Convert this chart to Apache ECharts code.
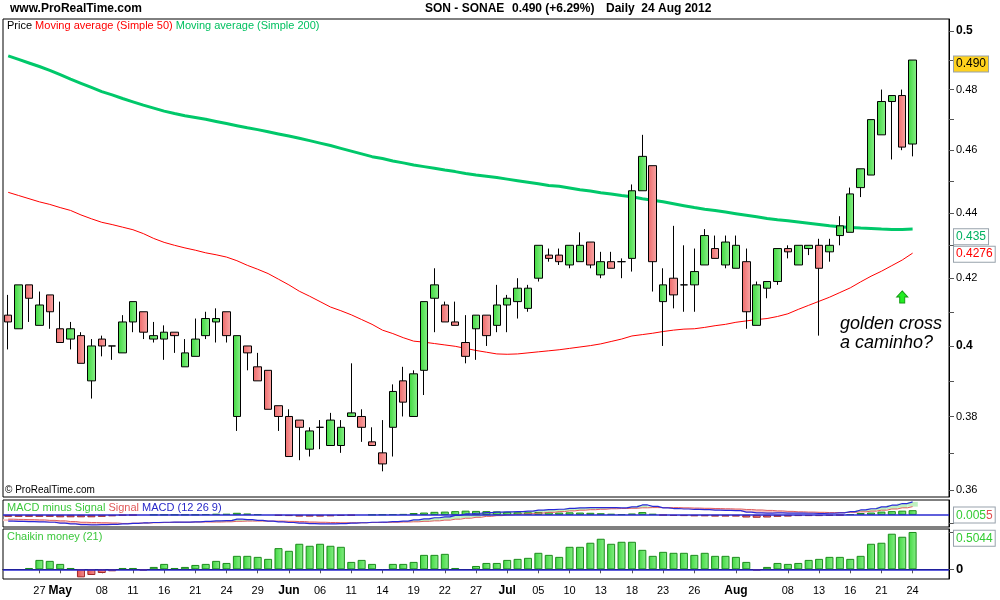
<!DOCTYPE html>
<html>
<head>
<meta charset="utf-8">
<script src="https://cdn.jsdelivr.net/npm/echarts@6/dist/echarts.min.js"></script>
<style>html,body{margin:0;padding:0;background:#fff;}#c{width:1000px;height:600px;}</style>
</head>
<body>
<div id="c"></div>
<script>
// ---------- DATA ----------
const dates = [
'2012-04-24','2012-04-25','2012-04-26','2012-04-27','2012-04-30',
'2012-05-02','2012-05-03','2012-05-04','2012-05-07','2012-05-08','2012-05-09','2012-05-10','2012-05-11','2012-05-14','2012-05-15','2012-05-16','2012-05-17','2012-05-18','2012-05-21','2012-05-22','2012-05-23','2012-05-24','2012-05-25','2012-05-28','2012-05-29','2012-05-30','2012-05-31',
'2012-06-01','2012-06-04','2012-06-05','2012-06-06','2012-06-07','2012-06-08','2012-06-11','2012-06-12','2012-06-13','2012-06-14','2012-06-15','2012-06-18','2012-06-19','2012-06-20','2012-06-21','2012-06-22','2012-06-25','2012-06-26','2012-06-27','2012-06-28','2012-06-29',
'2012-07-02','2012-07-03','2012-07-04','2012-07-05','2012-07-06','2012-07-09','2012-07-10','2012-07-11','2012-07-12','2012-07-13','2012-07-16','2012-07-17','2012-07-18','2012-07-19','2012-07-20','2012-07-23','2012-07-24','2012-07-25','2012-07-26','2012-07-27','2012-07-30','2012-07-31',
'2012-08-01','2012-08-02','2012-08-03','2012-08-06','2012-08-07','2012-08-08','2012-08-09','2012-08-10','2012-08-13','2012-08-14','2012-08-15','2012-08-16','2012-08-17','2012-08-20','2012-08-21','2012-08-22','2012-08-23','2012-08-24'
];
const padCats = ['p1','p2','p3'];

const opens = [0.409,0.405,0.418,0.406,0.415,0.405,0.402,0.403,0.390,0.402,
0.400,0.398,0.407,0.410,0.402,0.402,0.404,0.394,0.397,0.403,
0.407,0.410,0.380,0.400,0.394,0.393,0.383,0.380,0.379,0.371,
0.377,0.372,0.372,0.380,0.380,0.373,0.370,0.377,0.390,0.380,
0.393,0.414,0.412,0.407,0.401,0.405,0.409,0.406,0.412,0.413,
0.411,0.420,0.427,0.427,0.424,0.425,0.431,0.421,0.425,0.425,
0.426,0.447,0.455,0.413,0.420,0.418,0.418,0.424,0.429,0.424,
0.423,0.425,0.406,0.417,0.419,0.429,0.424,0.429,0.430,0.428,
0.433,0.434,0.448,0.452,0.465,0.476,0.478,0.462];
const closes = [0.407,0.418,0.414,0.412,0.410,0.401,0.405,0.395,0.400,0.400,
0.400,0.407,0.413,0.404,0.403,0.404,0.403,0.398,0.402,0.408,
0.408,0.403,0.403,0.398,0.390,0.382,0.380,0.369,0.377,0.376,
0.377,0.379,0.377,0.381,0.377,0.372,0.367,0.387,0.384,0.392,
0.413,0.418,0.407,0.406,0.397,0.409,0.403,0.412,0.414,0.417,
0.417,0.430,0.426,0.425,0.430,0.430,0.424,0.425,0.423,0.425,
0.447,0.458,0.425,0.418,0.415,0.418,0.422,0.433,0.426,0.431,
0.430,0.410,0.418,0.419,0.429,0.428,0.430,0.430,0.423,0.430,
0.436,0.446,0.454,0.470,0.476,0.478,0.461,0.490];
const lows = [0.399,0.405,0.407,0.406,0.405,0.401,0.399,0.395,0.385,0.397,
0.396,0.398,0.404,0.402,0.401,0.396,0.398,0.394,0.397,0.402,
0.401,0.401,0.376,0.393,0.390,0.382,0.376,0.369,0.368,0.369,
0.371,0.372,0.370,0.380,0.373,0.372,0.365,0.369,0.380,0.380,
0.386,0.404,0.407,0.406,0.395,0.396,0.400,0.404,0.404,0.408,
0.410,0.419,0.425,0.424,0.423,0.425,0.423,0.420,0.423,0.420,
0.422,0.447,0.416,0.400,0.411,0.410,0.410,0.424,0.426,0.423,
0.423,0.405,0.406,0.414,0.418,0.426,0.424,0.427,0.403,0.425,
0.430,0.434,0.445,0.452,0.465,0.457,0.460,0.458];
const highs = [0.415,0.418,0.418,0.416,0.415,0.413,0.407,0.404,0.402,0.403,
0.400,0.409,0.413,0.410,0.407,0.406,0.404,0.402,0.408,0.410,
0.411,0.410,0.403,0.400,0.398,0.393,0.383,0.382,0.379,0.377,
0.379,0.381,0.379,0.395,0.382,0.377,0.379,0.389,0.394,0.393,
0.413,0.423,0.413,0.413,0.409,0.409,0.409,0.418,0.415,0.420,
0.418,0.430,0.429,0.429,0.430,0.434,0.431,0.428,0.428,0.426,
0.449,0.465,0.455,0.423,0.436,0.430,0.429,0.435,0.433,0.433,
0.433,0.429,0.419,0.419,0.429,0.430,0.430,0.430,0.432,0.432,
0.439,0.448,0.454,0.470,0.480,0.478,0.480,0.490];

const ma50 = [0.4465,0.4455,0.4445,0.4435,0.4427,0.4417,0.4408,0.4394,0.4382,0.4371,
0.4364,0.4356,0.4348,0.4336,0.4321,0.4309,0.4300,0.4292,0.4285,0.4277,
0.4271,0.4264,0.4253,0.4239,0.4227,0.4214,0.4197,0.4180,0.4161,0.4146,
0.4130,0.4114,0.4103,0.4091,0.4077,0.4063,0.4046,0.4036,0.4024,0.4014,
0.4011,0.4007,0.4003,0.3999,0.3993,0.3987,0.3982,0.3977,0.3976,0.3977,
0.3980,0.3983,0.3986,0.3989,0.3993,0.3997,0.4001,0.4006,0.4013,0.4020,
0.4029,0.4033,0.4037,0.4042,0.4046,0.4049,0.4050,0.4054,0.4059,0.4063,
0.4069,0.4073,0.4077,0.4080,0.4086,0.4094,0.4107,0.4119,0.4131,0.4143,
0.4157,0.4171,0.4189,0.4206,0.4221,0.4238,0.4255,0.4276];
const ma200 = [0.4914,0.4902,0.4890,0.4878,0.4865,0.4850,0.4835,0.4821,0.4807,0.4793,
0.4782,0.4770,0.4759,0.4748,0.4738,0.4728,0.4720,0.4713,0.4707,0.4701,
0.4694,0.4687,0.4680,0.4673,0.4667,0.4660,0.4653,0.4646,0.4639,0.4631,
0.4623,0.4615,0.4606,0.4597,0.4588,0.4579,0.4573,0.4565,0.4559,0.4552,
0.4547,0.4542,0.4536,0.4531,0.4525,0.4520,0.4516,0.4512,0.4507,0.4502,
0.4497,0.4492,0.4487,0.4484,0.4479,0.4473,0.4469,0.4464,0.4460,0.4455,
0.4451,0.4445,0.4440,0.4435,0.4429,0.4423,0.4417,0.4412,0.4408,0.4403,
0.4398,0.4393,0.4388,0.4383,0.4379,0.4376,0.4372,0.4368,0.4364,0.4360,
0.4357,0.4355,0.4353,0.4352,0.4350,0.4349,0.4349,0.4350];

const macdLine = [-0.0026,-0.0027,-0.0028,-0.0029,-0.0031,-0.0035,-0.0038,-0.0041,-0.0042,-0.0041,
-0.0040,-0.0038,-0.0036,-0.0034,-0.0032,-0.0031,-0.0030,-0.0030,-0.0029,-0.0027,
-0.0025,-0.0024,-0.0018,-0.0020,-0.0023,-0.0026,-0.0029,-0.0032,-0.0035,-0.0037,
-0.0038,-0.0038,-0.0037,-0.0035,-0.0033,-0.0031,-0.0030,-0.0028,-0.0026,-0.0021,
-0.0017,-0.0012,-0.0008,-0.0002,0.0004,0.0007,0.0010,0.0012,0.0013,0.0014,
0.0016,0.0020,0.0022,0.0024,0.0028,0.0030,0.0031,0.0031,0.0031,0.0030,
0.0034,0.0042,0.0036,0.0030,0.0027,0.0025,0.0023,0.0022,0.0020,0.0019,
0.0018,0.0012,0.0009,0.0008,0.0009,0.0008,0.0008,0.0007,0.0006,0.0007,
0.0009,0.0014,0.0021,0.0026,0.0034,0.0041,0.0048,0.0055];
const signalLine = [-0.0018,-0.0019,-0.0020,-0.0021,-0.0023,-0.0025,-0.0028,-0.0031,-0.0032,-0.0033,
-0.0034,-0.0036,-0.0035,-0.0034,-0.0033,-0.0032,-0.0031,-0.0031,-0.0030,-0.0030,
-0.0030,-0.0029,-0.0027,-0.0026,-0.0026,-0.0026,-0.0026,-0.0027,-0.0028,-0.0030,
-0.0031,-0.0032,-0.0033,-0.0033,-0.0033,-0.0032,-0.0032,-0.0031,-0.0030,-0.0029,
-0.0027,-0.0025,-0.0022,-0.0018,-0.0014,-0.0010,-0.0006,-0.0003,0.0000,0.0003,
0.0005,0.0008,0.0011,0.0014,0.0017,0.0020,0.0022,0.0024,0.0026,0.0027,
0.0028,0.0030,0.0031,0.0031,0.0031,0.0030,0.0029,0.0028,0.0027,0.0026,
0.0025,0.0023,0.0021,0.0019,0.0017,0.0015,0.0013,0.0012,0.0011,0.0010,
0.0010,0.0011,0.0013,0.0016,0.0020,0.0025,0.0030,0.0035];
const macdHist = [-0.0008,-0.0008,-0.0008,-0.0008,-0.0008,-0.0010,-0.0010,-0.0010,-0.0010,-0.0008,
-0.0006,-0.0002,-0.0001,0,0.0001,0.0001,0.0001,0.0001,0.0001,0.0003,
0.0005,0.0005,0.0009,0.0006,0.0003,0,-0.0003,-0.0005,-0.0007,-0.0007,
-0.0007,-0.0006,-0.0004,-0.0002,0,0.0001,0.0002,0.0003,0.0004,0.0008,
0.0010,0.0013,0.0014,0.0016,0.0018,0.0017,0.0016,0.0015,0.0013,0.0011,
0.0011,0.0012,0.0011,0.0010,0.0011,0.0010,0.0009,0.0007,0.0005,0.0003,
0.0006,0.0012,0.0005,-0.0001,-0.0004,-0.0005,-0.0006,-0.0006,-0.0007,-0.0007,
-0.0007,-0.0011,-0.0012,-0.0011,-0.0008,-0.0007,-0.0005,-0.0005,-0.0005,-0.0003,
-0.0001,0.0003,0.0008,0.0010,0.0014,0.0016,0.0018,0.0020];

const chaikin = [0,0,0.018,0.127,0.114,0.073,0.018,-0.109,-0.077,-0.050,
-0.027,0.018,0.018,-0.018,0.032,0.073,0.018,0.032,0.059,0.073,
0.114,0.086,0.182,0.182,0.168,0.141,0.286,0.250,0.345,0.318,
0.345,0.318,0.304,0.100,0.127,0.073,0,0.073,0.073,0.100,
0.195,0.195,0.209,0.018,0,0.045,0.086,0.086,0.127,0.141,
0.155,0.223,0.195,0.168,0.304,0.304,0.359,0.413,0.345,0.372,
0.372,0.263,0.182,0.236,0.223,0.223,0.195,0.223,0.182,0.182,
0.168,0.100,-0.018,0.032,0.086,0.073,0.086,0.127,0.141,0.168,
0.168,0.141,0.182,0.345,0.359,0.481,0.440,0.5044];

const xTickIdx = [3,5,9,12,15,18,21,24,27,30,33,36,39,42,45,48,51,54,57,60,63,66,70,75,78,81,84,87];
const xTickText = ['27','May','08','11','16','21','24','29','Jun','06','11','14','19','22','27','Jul','05','10','13','18','23','26','Aug','08','13','16','21','24'];
const monthLabels = ['May','Jun','Jul','Aug'];

const priceLabels = [0.36,0.38,0.40,0.42,0.44,0.46,0.48,0.50];
const priceTicks = [0.36,0.37,0.38,0.39,0.40,0.41,0.42,0.43,0.44,0.45,0.46,0.47,0.48,0.49,0.50];

// ---------- CHART ----------
const FONT = '"Liberation Sans", Arial, sans-serif';
// price scale of the original: logarithmic-like (log of price + 0.1)
const SHIFT = 0.1;
const F = v => Math.log(v + SHIFT);
const FI = t => Math.exp(t) - SHIFT;
const span = F(0.5) - F(0.36);
const yMax = F(0.5) + span * 12 / 459;
const yMin = F(0.36) - span * 7 / 459;

const chart = echarts.init(document.getElementById('c'), null, {renderer: 'canvas'});
const cats = dates.concat(padCats);

const gUp = new echarts.graphic.LinearGradient(0,0,1,0,[{offset:0,color:'#3cd83c'},{offset:1,color:'#8cf08c'}]);
const gDown = new echarts.graphic.LinearGradient(0,0,1,0,[{offset:0,color:'#ee6868'},{offset:1,color:'#f8a8a8'}]);
const gBarUp = new echarts.graphic.LinearGradient(0,0,1,0,[{offset:0,color:'#40d840'},{offset:1,color:'#88ee88'}]);
const gBarDown = new echarts.graphic.LinearGradient(0,0,1,0,[{offset:0,color:'#e85050'},{offset:1,color:'#f09090'}]);

const candleData = opens.map((o,i)=>[F(o), F(closes[i]), F(lows[i]), F(highs[i])]);
const isTick = (idx)=> xTickIdx.indexOf(idx) >= 0;

function barItems(arr){
  return arr.map(v=>({value:v, itemStyle: v===0 ? {borderWidth:0, color:'transparent'} :
    (v>0 ? {color:gBarUp, borderColor:'#1c8c1c', borderWidth:1} : {color:gBarDown, borderColor:'#a02828', borderWidth:1})}));
}

const valLabel = (val, text, opts) => ({
  yAxis: val,
  lineStyle:{color:'rgba(0,0,0,0)', width:0},
  label: Object.assign({show:true, position:'end', distance:5, formatter:text, fontFamily:FONT, fontSize:12,
    borderColor:'#98a2ac', borderWidth:1, padding:[1,2,0,2], lineHeight:14}, opts)
});

const option = {
  animation:false,
  backgroundColor:'#fff',
  grid:[
    {left:3, right:51, top:19, height:478, show:true, borderColor:'#000', borderWidth:1, backgroundColor:'#fff'},
    {left:3, right:51, top:500, height:27, show:true, borderColor:'#000', borderWidth:1, backgroundColor:'#fff'},
    {left:3, right:51, top:529, height:50, show:true, borderColor:'#000', borderWidth:1, backgroundColor:'#fff'}
  ],
  xAxis:[
    {type:'category', gridIndex:0, data:cats, boundaryGap:true, axisLine:{show:false}, axisTick:{show:false}, axisLabel:{show:false}, splitLine:{show:false}},
    {type:'category', gridIndex:1, data:cats, boundaryGap:true, axisLine:{show:false}, axisTick:{show:false}, axisLabel:{show:false}, splitLine:{show:false}},
    {type:'category', gridIndex:2, data:cats, boundaryGap:true,
      axisLine:{show:true, lineStyle:{color:'#000', width:1}},
      axisTick:{show:true, alignWithLabel:true, length:4, interval:(i)=>isTick(i), lineStyle:{color:'#555'}},
      axisLabel:{show:true, interval:(i)=>isTick(i), margin:6, fontFamily:FONT, fontSize:11, color:'#000',
        formatter:(v,i)=>{const k=xTickIdx.indexOf(i); if(k<0) return ''; const t=xTickText[k]; return monthLabels.indexOf(t)>=0 ? '{b|'+t+'}' : t;},
        rich:{b:{fontWeight:'bold', fontSize:12, fontFamily:FONT, color:'#000'}}},
      splitLine:{show:false}}
  ],
  yAxis:[
    {type:'value', gridIndex:0, position:'right', min:yMin, max:yMax, scale:true,
      axisLine:{show:true, lineStyle:{color:'#000'}},
      axisTick:{show:true, inside:false, length:5, customValues: priceTicks.map(F), lineStyle:{color:'#555'}},
      axisLabel:{show:true, margin:7, customValues: priceLabels.map(F), fontFamily:FONT, fontSize:11, color:'#000',
        formatter:(v)=>{const p=Math.round(FI(v)*100)/100; const s=String(p); return s.length===3 ? '{b|'+s+'}' : s;},
        rich:{b:{fontWeight:'bold', fontSize:12, fontFamily:FONT, color:'#000'}}},
      splitLine:{show:false}},
    {type:'value', gridIndex:1, position:'right', min:-0.0051, max:0.0063,
      axisLine:{show:true, lineStyle:{color:'#000'}},
      axisTick:{show:true, length:5, customValues:[-0.0035], lineStyle:{color:'#555'}},
      axisLabel:{show:false}, splitLine:{show:false}},
    {type:'value', gridIndex:2, position:'right', min:-0.131, max:0.5446,
      axisLine:{show:true, lineStyle:{color:'#000'}},
      axisTick:{show:true, length:5, customValues:[0,0.5], lineStyle:{color:'#555'}},
      axisLabel:{show:true, margin:7, customValues:[0], formatter:()=> '{b|0}',
        rich:{b:{fontWeight:'bold', fontSize:13, fontFamily:FONT, color:'#000'}}},
      splitLine:{show:false}}
  ],
  series:[
    {name:'SMA200', type:'line', xAxisIndex:0, yAxisIndex:0, data:ma200.map(F), showSymbol:false, symbol:'none',
      lineStyle:{color:'#00c86a', width:3}, z:2, silent:true,
      markLine:{silent:true, symbol:'none', animation:false, data:[valLabel(F(0.435), '0.435', {color:'#00b060', backgroundColor:'#fff'})]}},
    {name:'SMA50', type:'line', xAxisIndex:0, yAxisIndex:0, data:ma50.map(F), showSymbol:false, symbol:'none',
      lineStyle:{color:'#ff0000', width:1}, z:2, silent:true,
      markLine:{silent:true, symbol:'none', animation:false, data:[valLabel(F(0.4276), '0.4276', {color:'#ff0000', backgroundColor:'#fff'})]},
      markPoint:{silent:true, animation:false, data:[{coord:[86, F(0.4144)], symbol:'path://M5.5,0 L11,6 L8,6 L8,12 L3,12 L3,6 L0,6 Z', symbolSize:[11,12],
        itemStyle:{color:'#22ee22', borderColor:'#119911', borderWidth:1}, label:{show:false}}]}},
    {name:'Price', type:'candlestick', xAxisIndex:0, yAxisIndex:0, data:candleData, barWidth:8, z:3,
      itemStyle:{color:gUp, color0:gDown, borderColor:'#000', borderColor0:'#000', borderColorDoji:'#000', borderWidth:1},
      markLine:{silent:true, symbol:'none', animation:false, data:[valLabel(F(0.49), '0.490', {color:'#000', backgroundColor:'#ffd21e'})]}},
    {name:'fill', type:'custom', xAxisIndex:1, yAxisIndex:1, silent:true, z:1,
      data: macdLine.map((m,i)=>[i, m, signalLine[i]]),
      encode:{x:0, y:[1,2]},
      renderItem:(params, api)=>{
        const i=api.value(0), a=api.coord([i, api.value(1)]), b=api.coord([i, api.value(2)]);
        const w=api.size([1,0])[0];
        return {type:'rect', shape:{x:a[0]-w/2, y:Math.min(a[1],b[1]), width:w, height:Math.max(0.5, Math.abs(a[1]-b[1]))},
          style:{fill: api.value(1)>=api.value(2) ? '#bff0bf' : '#f6c0c0'}};
      }},
    {name:'MACD minus Signal', type:'bar', xAxisIndex:1, yAxisIndex:1, data:barItems(macdHist), barWidth:8, z:2, silent:true,
      markLine:{silent:true, symbol:'none', animation:false, data:[
        {yAxis:0, lineStyle:{color:'#2a2ad0', width:1.5, type:'solid'}, label:{show:false}},
        valLabel(0.0021, '{g|0.005}{r|5}', {backgroundColor:'#fff', rich:{g:{color:'#33cc33', fontSize:12, fontFamily:FONT}, r:{color:'#e05050', fontSize:12, fontFamily:FONT}}})
      ]}},
    {name:'Signal', type:'line', xAxisIndex:1, yAxisIndex:1, data:signalLine, step:'middle', showSymbol:false, symbol:'none',
      lineStyle:{color:'#e06060', width:1}, z:3, silent:true},
    {name:'MACD', type:'line', xAxisIndex:1, yAxisIndex:1, data:macdLine, step:'middle', showSymbol:false, symbol:'none',
      lineStyle:{color:'#2828d8', width:1.2}, z:4, silent:true},
    {name:'Chaikin', type:'bar', xAxisIndex:2, yAxisIndex:2, data:barItems(chaikin), barWidth:8, z:2, silent:true,
      markLine:{silent:true, symbol:'none', animation:false, data:[
        {yAxis:0, lineStyle:{color:'#2a2ad0', width:1.5, type:'solid'}, label:{show:false}},
        valLabel(0.423, '0.5044', {color:'#33cc33', backgroundColor:'#fff'})
      ]}}
  ],
  graphic:[
    {type:'text', left:10, top:3, silent:true, style:{text:'www.ProRealTime.com', font:'bold 12px '+FONT, fill:'#000'}},
    {type:'text', left:425, top:3, silent:true, style:{text:'SON - SONAE', font:'bold 12px '+FONT, fill:'#000'}},
    {type:'text', left:512, top:3, silent:true, style:{text:'0.490 (+6.29%)', font:'bold 12px '+FONT, fill:'#000'}},
    {type:'text', left:606, top:3, silent:true, style:{text:'Daily  24 Aug 2012', font:'bold 12px '+FONT, fill:'#000'}},
    {type:'text', left:7, top:20, silent:true, style:{text:'{k|Price} {r|Moving average (Simple 50)} {g|Moving average (Simple 200)}',
      rich:{k:{fill:'#000', font:'11px '+FONT}, r:{fill:'#ff0000', font:'11px '+FONT}, g:{fill:'#00c060', font:'11px '+FONT}}, font:'11px '+FONT}},
    {type:'text', left:5, top:485, silent:true, style:{text:'© ProRealTime.com', font:'10px '+FONT, fill:'#000'}},
    {type:'text', left:7, top:502, silent:true, style:{text:'{g|MACD minus Signal} {r|Signal} {b|MACD (12 26 9)}',
      rich:{g:{fill:'#3cc83c', font:'11px '+FONT}, r:{fill:'#e05a5a', font:'11px '+FONT}, b:{fill:'#2828c8', font:'11px '+FONT}}, font:'11px '+FONT}},
    {type:'text', left:7, top:531, silent:true, style:{text:'Chaikin money (21)', font:'11px '+FONT, fill:'#3cc83c'}},
    {type:'text', left:840, top:314, silent:true, style:{text:'golden cross\na caminho?', font:'italic 18px '+FONT, fill:'#000', lineHeight:19}}
  ]
};
chart.setOption(option);
</script>
</body>
</html>
